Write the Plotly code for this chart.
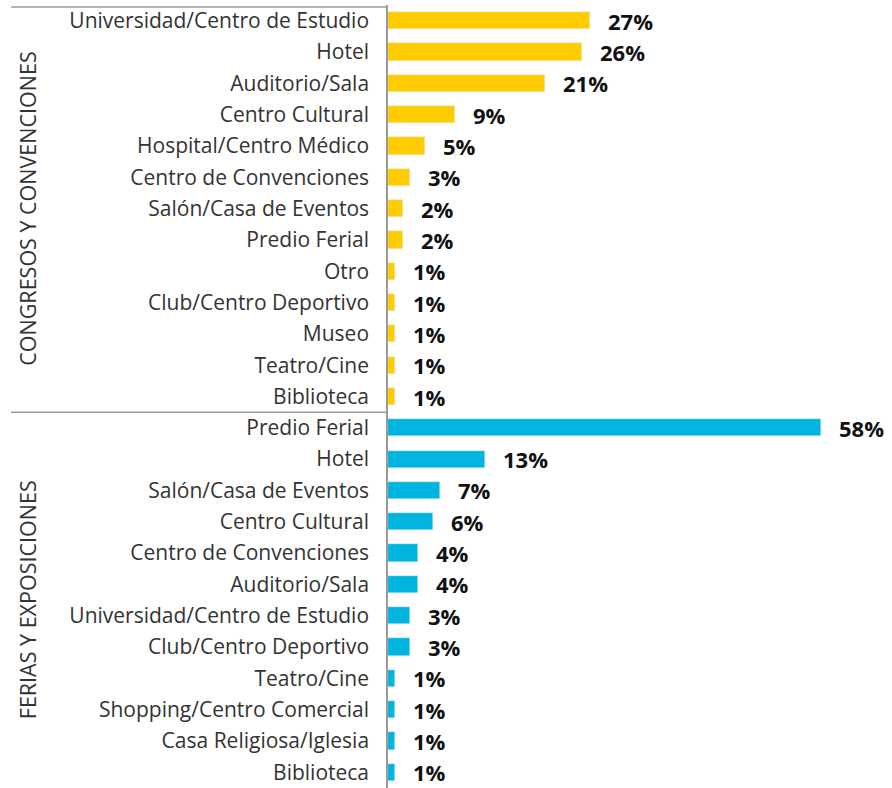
import plotly.graph_objects as go

# Venue types per event category (percent of events)
congresos_labels = [
    "Universidad/Centro de Estudio", "Hotel", "Auditorio/Sala", "Centro Cultural",
    "Hospital/Centro Médico", "Centro de Convenciones", "Salón/Casa de Eventos",
    "Predio Ferial", "Otro", "Club/Centro Deportivo", "Museo", "Teatro/Cine", "Biblioteca",
]
congresos_values = [27, 26, 21, 9, 5, 3, 2, 2, 1, 1, 1, 1, 1]

ferias_labels = [
    "Predio Ferial", "Hotel", "Salón/Casa de Eventos", "Centro Cultural",
    "Centro de Convenciones", "Auditorio/Sala", "Universidad/Centro de Estudio",
    "Club/Centro Deportivo", "Teatro/Cine", "Shopping/Centro Comercial",
    "Casa Religiosa/Iglesia", "Biblioteca",
]
ferias_values = [58, 13, 7, 6, 4, 4, 3, 3, 1, 1, 1, 1]

group_titles = ["CONGRESOS Y CONVENCIONES", "FERIAS Y EXPOSICIONES"]

YELLOW = "#FFCC00"
BLUE = "#00B4E0"
FONT = "Open Sans"

n1 = len(congresos_values)
n2 = len(ferias_values)
pos1 = list(range(n1))
pos2 = list(range(n1, n1 + n2))

fig = go.Figure()
fig.add_trace(go.Bar(
    y=pos1, x=congresos_values, orientation="h", marker_color=YELLOW,
    width=0.55, hoverinfo="skip",
))
fig.add_trace(go.Bar(
    y=pos2, x=ferias_values, orientation="h", marker_color=BLUE,
    width=0.55, hoverinfo="skip",
))

annotations = []
for p, v in zip(pos1 + pos2, congresos_values + ferias_values):
    annotations.append(dict(
        x=v, y=p, xref="x", yref="y", text=f"<b>{v}%</b>", showarrow=False,
        xanchor="left", yanchor="middle", xshift=16, yshift=0,
        font=dict(family=FONT, size=22, color="#111111"),
    ))

# rotated group titles at the left edge
for title, pos in zip(group_titles, (pos1, pos2)):
    annotations.append(dict(
        x=-0.716, y=(pos[0] + pos[-1]) / 2, xref="paper", yref="y",
        text=title, textangle=-90, showarrow=False,
        xanchor="center", yanchor="middle",
        font=dict(family=FONT, size=21.5, color="#333333"),
    ))

line_style = dict(color="#9A9A9A", width=1.5)
shapes = [
    # top border
    dict(type="line", xref="paper", yref="y", x0=-0.748, x1=0, y0=-0.44, y1=-0.44, line=line_style),
    # separator between the two groups
    dict(type="line", xref="paper", yref="y", x0=-0.748, x1=0,
         y0=n1 - 0.5, y1=n1 - 0.5, line=line_style),
]

fig.update_layout(
    width=892, height=788,
    margin=dict(l=388, r=0, t=5, b=0),
    paper_bgcolor="white", plot_bgcolor="white",
    showlegend=False, bargap=0,
    annotations=annotations, shapes=shapes,
    xaxis=dict(range=[0, 67.5], visible=False, fixedrange=True),
    yaxis=dict(
        range=[24.5, -0.5], tickmode="array",
        tickvals=pos1 + pos2, ticktext=congresos_labels + ferias_labels,
        showgrid=False, zeroline=False, showline=True,
        linecolor="#9A9A9A", linewidth=1.5,
        ticks="outside", ticklen=13, tickcolor="rgba(0,0,0,0)",
        ticklabeloverflow="allow",
        tickfont=dict(family=FONT, size=21, color="#333333"),
        fixedrange=True,
    ),
)

fig.write_html("out.html")
